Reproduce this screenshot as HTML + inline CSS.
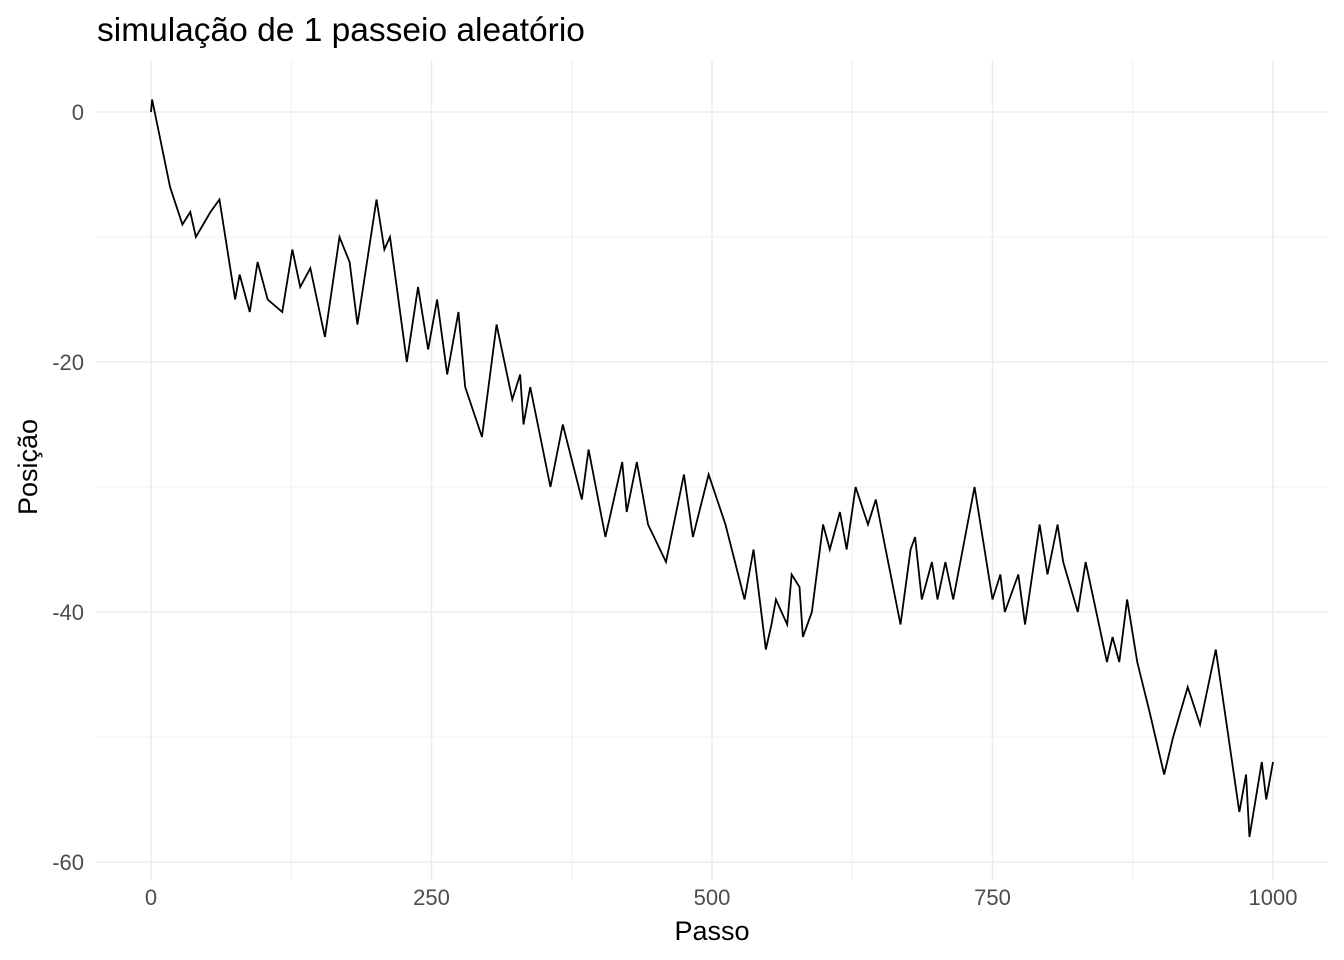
<!DOCTYPE html>
<html><head><meta charset="utf-8"><style>
html,body{margin:0;padding:0;background:#fff;}
svg{display:block;font-family:"Liberation Sans",Arial,sans-serif;}
</style></head><body>
<svg id="chart" width="1344" height="960">
<text x="97" y="41" font-size="33.5" fill="#000">simulação de 1 passeio aleatório</text>
<g id="grid"></g>
<g id="xticks"></g>
<g id="yticks"></g>
<polyline id="walk" fill="none" stroke="#000" stroke-width="1.8" stroke-linejoin="miter"></polyline>
<text x="712" y="940" font-size="27" text-anchor="middle" fill="#000">Passo</text>
<text transform="translate(37,467) rotate(-90)" font-size="27" text-anchor="middle" fill="#000">Posição</text>
</svg>
<script>
const steps = [0,1,17,28,35,40,53,61,75,79,88,95,104,117,126,133,142,155,168,177,184,201,208,213,228,238,247,255,264,274,280,295,308,322,329,332,338,356,367,384,390,405,420,424,433,443,459,475,483,497,512,529,537,548,553,557,567,571,578,581,589,599,605,614,620,628,639,646,668,677,681,687,696,701,708,715,734,750,757,761,773,779,792,799,808,813,826,833,852,857,863,870,879,890,903,911,924,935,949,970,976,979,990,994,1000];
const positions = [0,1,-6,-9,-8,-10,-8,-7,-15,-13,-16,-12,-15,-16,-11,-14,-12.5,-18,-10,-12,-17,-7,-11,-10,-20,-14,-19,-15,-21,-16,-22,-26,-17,-23,-21,-25,-22,-30,-25,-31,-27,-34,-28,-32,-28,-33,-36,-29,-34,-29,-33,-39,-35,-43,-41,-39,-41,-37,-38,-42,-40,-33,-35,-32,-35,-30,-33,-31,-41,-35,-34,-39,-36,-39,-36,-39,-30,-39,-37,-40,-37,-41,-33,-37,-33,-36,-40,-36,-44,-42,-44,-39,-44,-48,-53,-50,-46,-49,-43,-56,-53,-58,-52,-55,-52];
const xTicks = [0,250,500,750,1000];
const xMinor = [125,375,625,875];
const yTicks = [0,-20,-40,-60];
const yMinor = [-10,-30,-50];

const NS="http://www.w3.org/2000/svg";
const L=96,R=1328,T=60,B=880;
const xs=v=>151+v*1.122;
const ys=v=>112-v*12.5;
const grid=document.getElementById('grid');
function line(x1,y1,x2,y2,w,name){
  const l=document.createElementNS(NS,'line');
  l.setAttribute('x1',x1);l.setAttribute('y1',y1);l.setAttribute('x2',x2);l.setAttribute('y2',y2);
  l.setAttribute('stroke','#ebebeb');l.setAttribute('stroke-width',w);
  
  
  grid.appendChild(l);
}
xMinor.forEach(v=>line(xs(v),T,xs(v),B,0.8,'x-minor-gridline'));
yMinor.forEach(v=>line(L,ys(v),R,ys(v),0.8,'y-minor-gridline'));
xTicks.forEach(v=>line(xs(v),T,xs(v),B,1.5,'x-major-gridline'));
yTicks.forEach(v=>line(L,ys(v),R,ys(v),1.5,'y-major-gridline'));
const xg=document.getElementById('xticks');
xTicks.forEach(v=>{
  const t=document.createElementNS(NS,'text');
  t.setAttribute('x',xs(v));t.setAttribute('y',905);t.setAttribute('text-anchor','middle');
  t.setAttribute('font-size','22');t.setAttribute('fill','#4d4d4d');t.textContent=v;
  
  
  xg.appendChild(t);
});
const yg=document.getElementById('yticks');
yTicks.forEach(v=>{
  const t=document.createElementNS(NS,'text');
  t.setAttribute('x',84);t.setAttribute('y',ys(v)+8);t.setAttribute('text-anchor','end');
  t.setAttribute('font-size','22');t.setAttribute('fill','#4d4d4d');t.textContent=v;
  
  
  yg.appendChild(t);
});
document.getElementById('walk').setAttribute('points',steps.map((s,i)=>xs(s)+','+ys(positions[i])).join(' '));
</script>
</body></html>
